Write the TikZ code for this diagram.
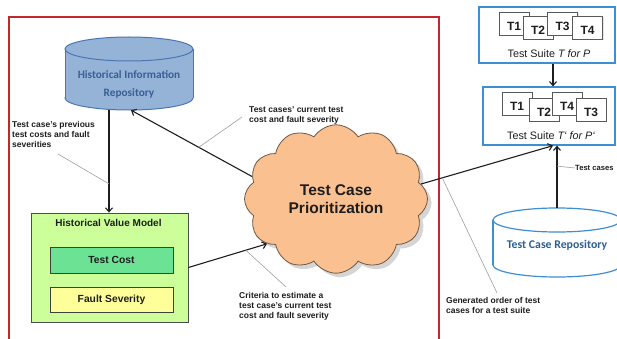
\documentclass[tikz,border=0pt]{standalone}
\usepackage{fontspec}
\setmainfont{Liberation Sans}
\newfontfamily\calib{Carlito}
\usetikzlibrary{shapes.symbols,shadows,arrows.meta,calc}
\definecolor{framered}{HTML}{C0282D}
\definecolor{hirfill}{HTML}{95B3D7}
\definecolor{hirline}{HTML}{4A76B4}
\definecolor{hirtext}{HTML}{3A5F95}
\definecolor{cloudfill}{HTML}{FAC08F}
\definecolor{cloudline}{HTML}{6E5A45}
\definecolor{hvmfill}{HTML}{CCFF99}
\definecolor{costfill}{HTML}{6CE294}
\definecolor{sevfill}{HTML}{FFFF99}
\definecolor{suiteline}{HTML}{3E8ED6}
\definecolor{tcrtext}{HTML}{2D5F94}
\definecolor{inkc}{HTML}{1E1E1E}
\tikzset{
  arr/.style={draw=inkc, line width=1.1pt, -{Straight Barb[length=4pt,width=7pt]}},
  callout/.style={draw=gray!75, line width=0.6pt},
  note/.style={inner sep=0pt, align=left, text=inkc, font=\bfseries\fontsize{8.5}{10}\selectfont},
  suite/.style={draw=suiteline, line width=1.3pt, fill=white, inner sep=0pt},
  card/.style={draw=black!65, line width=0.6pt, fill=white, inner sep=0pt, minimum width=30pt, minimum height=23pt,
    drop shadow={shadow xshift=1pt, shadow yshift=-1pt, fill=gray!40}},
  cardlbl/.style={font=\bfseries\fontsize{12}{13}\selectfont, text=inkc, inner sep=0pt, yshift=-2.5pt},
  innerbox/.style={draw=black!75, line width=0.8pt, inner sep=0pt, minimum width=123pt, font=\bfseries\fontsize{10.3}{12}\selectfont, text=inkc},
}
\begin{document}
\begin{tikzpicture}[x=1pt,y=-1pt]
\useasboundingbox (0,0) rectangle (617,339);
\fill[white] (0,0) rectangle (617,339);

% red frame
\draw[framered, line width=1.6pt] (9,17) rectangle (439,360);

% Historical Information Repository (cylinder)
\filldraw[fill=hirfill, draw=hirline, line width=1pt] (129,98) ellipse [x radius=64pt, y radius=12pt];
\fill[hirfill] (65,49) rectangle (193,98);
\draw[hirline, line width=1pt] (65,49) -- (65,98) (193,49) -- (193,98);
\filldraw[fill=hirfill, draw=hirline, line width=1pt] (129,49) ellipse [x radius=64pt, y radius=12pt];
\node[inner sep=0pt, minimum width=128pt, minimum height=73pt] (hir) at (129,73.5) {};
\node[inner sep=0pt, align=center, text=hirtext, font=\calib\bfseries\fontsize{11.3}{18}\selectfont] (hirlbl) at (129,84) {Historical Information\\Repository};

% Test Case Repository (cylinder)
\filldraw[fill=white, draw=suiteline, line width=1.2pt] (557,265) ellipse [x radius=64pt, y radius=12pt];
\fill[white] (493,220) rectangle (621,265);
\draw[suiteline, line width=1.2pt] (493,220) -- (493,265) (621,220) -- (621,265);
\filldraw[fill=white, draw=suiteline, line width=1.2pt] (557,220) ellipse [x radius=64pt, y radius=12pt];
\node[inner sep=0pt, minimum width=128pt, minimum height=69pt] (tcr) at (557,242.5) {};
\node[inner sep=0pt, text=tcrtext, font=\calib\bfseries\fontsize{11.8}{14}\selectfont] (tcrlbl) at (557,245) {Test Case Repository};

% Historical Value Model
\node[draw=black!70, line width=0.8pt, fill=hvmfill, minimum width=157pt, minimum height=109pt, inner sep=0pt] (hvm) at (109.5,267.5) {};
\node[inner sep=0pt, font=\bfseries\fontsize{10}{12}\selectfont, text=inkc] (hvmtitle) at (108.5,223) {Historical Value Model};
\node[innerbox, fill=costfill, minimum height=26pt] (cost) at (111.5,260) {Test Cost};
\node[innerbox, fill=sevfill, minimum height=25pt] (sev) at (111.5,299.5) {Fault Severity};

% cloud
\node[cloud, cloud puffs=12, cloud puff arc=115, draw=cloudline, line width=0.8pt, fill=cloudfill,
      minimum width=183pt, minimum height=110pt, inner sep=0pt, align=center,
      font=\bfseries\fontsize{15.5}{17.5}\selectfont, text=inkc,
      drop shadow={shadow xshift=4pt, shadow yshift=-4pt, fill=gray!65}] (cloud) at (336,199) {Test Case\\Prioritization};

% Test suite T
\node[suite, minimum width=136pt, minimum height=56pt] (ts1) at (547,35) {};
\node[card] (a1) at (514,23.5) {};
\node[cardlbl] at (a1) {T1};
\node[card] (a2) at (538,28) {};
\node[cardlbl] at (a2) {T2};
\node[card] (a3) at (562.5,23.5) {};
\node[cardlbl] at (a3) {T3};
\node[card] (a4) at (587.5,28) {};
\node[cardlbl] at (a4) {T4};
\node[inner sep=0pt, font=\fontsize{10.8}{12}\selectfont, text=inkc] (ts1lbl) at (549,54) {Test Suite \textit{T for P}};

% Test suite T'
\node[suite, minimum width=132pt, minimum height=58pt] (ts2) at (549,116) {};
\node[card] (b1) at (517,103.5) {};
\node[cardlbl] at (b1) {T1};
\node[card] (b2) at (544,109.5) {};
\node[cardlbl] at (b2) {T2};
\node[card] (b3) at (567,103.5) {};
\node[cardlbl] at (b3) {T4};
\node[card] (b4) at (591,109.5) {};
\node[cardlbl] at (b4) {T3};
\node[inner sep=0pt, font=\fontsize{10.8}{12}\selectfont, text=inkc] (ts2lbl) at (551,136) {Test Suite \textit{T`{} for P`}};

% connectors
\draw[arr] ([xshift=-20pt]hir.south) -- coordinate[pos=0.72] (c1) ([xshift=-20pt]hir.south |- hvm.north);
\draw[arr] (cloud.165) -- coordinate[pos=0.44] (c2) ([xshift=2pt]hir.south);
\draw[arr] (hvm.east) -- coordinate[pos=0.73] (c3) (cloud.213);
\draw[arr] (cloud.10) -- coordinate[pos=0.16] (c4) ([xshift=4pt]ts2.south);
\draw[arr] (tcr.north) -- coordinate[pos=0.67] (c5) (tcr.north |- ts2.south);
\draw[arr] ([xshift=6pt]ts1.south) -- ([xshift=6pt]ts1.south |- ts2.north);

% notes
\node[note, anchor=west] (note1) at (12,134) {Test case's previous\\test costs  and fault\\severities};
\node[note, anchor=west] (note2) at (249,115) {Test cases' current test\\cost and fault severity};
\node[note, anchor=west] (note3) at (239,306) {Criteria to estimate a\\test case's  current test\\cost and fault severity};
\node[note, anchor=west] (note4) at (446,305) {Generated order of test\\cases for a test suite};
\node[note, anchor=west, font=\bfseries\fontsize{7.6}{9}\selectfont] (note5) at (575,168) {Test cases};

\coordinate (n1) at (58,154);
\coordinate (n2) at (242,117);
\coordinate (n3) at (286,287);
\coordinate (n4) at (497,293);
\draw[callout] (n1) -- (c1);
\draw[callout] (n2) -- (c2);
\draw[callout] (n3) -- (c3);
\draw[callout] (n4) -- (c4);
\draw[callout] (c5) -- (note5.west);
\end{tikzpicture}
\end{document}
